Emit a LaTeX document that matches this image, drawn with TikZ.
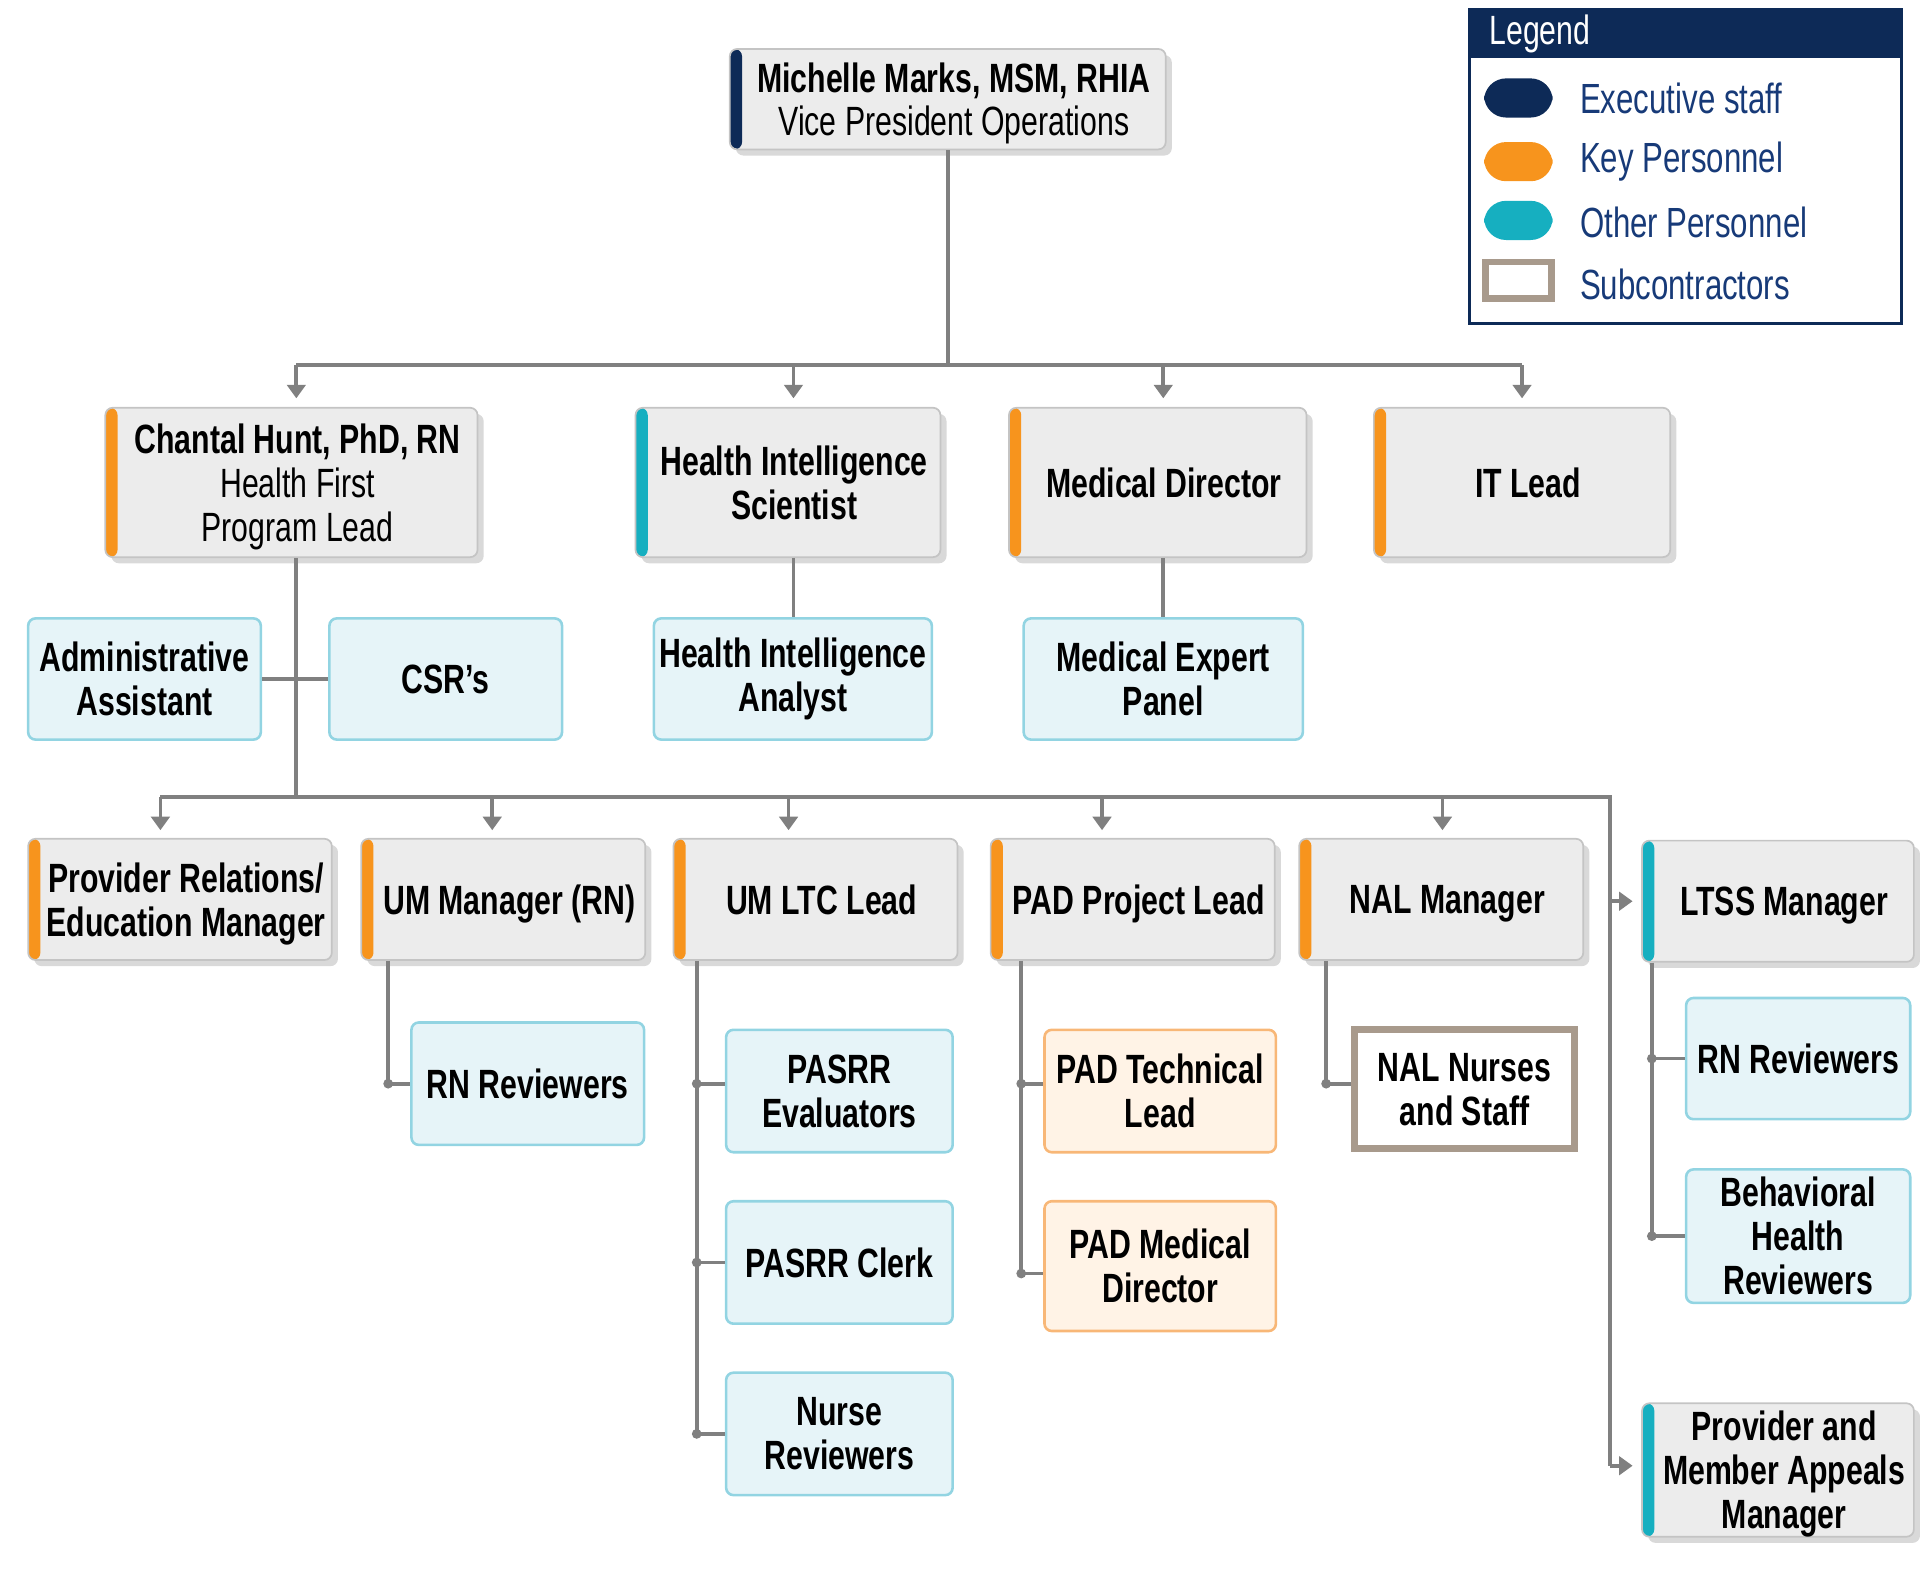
\documentclass[tikz,border=0pt]{standalone}
\usepackage{fontspec}
\setmainfont{Liberation Sans}[FakeStretch=0.74]
\usetikzlibrary{arrows.meta,shadows}
\definecolor{navy}{HTML}{0D2A57}
\definecolor{legtxt}{HTML}{173A78}
\definecolor{korange}{HTML}{F7941D}
\definecolor{kteal}{HTML}{16AFC0}
\definecolor{boxgray}{HTML}{ECECEC}
\definecolor{boxedge}{HTML}{C4C4C4}
\definecolor{lblue}{HTML}{E6F4F8}
\definecolor{bedge}{HTML}{92D4E2}
\definecolor{lorange}{HTML}{FFF3E6}
\definecolor{oedge}{HTML}{F8B777}
\definecolor{subc}{HTML}{A89A8C}
\definecolor{lgray}{HTML}{808080}
\tikzset{
 x=0.1mm, y=-0.1mm,
 base/.style={rounded corners=0.6mm, align=center, inner sep=0pt, font=\fontsize{9.5}{10.2}\selectfont\bfseries},
 gbox/.style={base, fill=boxgray, draw=boxedge, line width=0.4pt, text depth=0pt,
   drop shadow={opacity=0.3, shadow xshift=0.5mm, shadow yshift=-0.5mm},
   path picture={\fill[#1] (path picture bounding box.south west) rectangle ([xshift=1mm]path picture bounding box.north west);}},
 bbox/.style={base, fill=lblue, draw=bedge, line width=0.6pt},
 obox/.style={base, fill=lorange, draw=oedge, line width=0.6pt},
 sbox/.style={base, rounded corners=0pt, fill=white, draw=subc, line width=0.6mm},
 conn/.style={draw=lgray, line width=0.3mm},
 arr/.style={conn, -{Triangle[width=1.5mm,length=1.1mm]}, shorten >=0.7mm},
 dotn/.style={circle, fill=lgray, inner sep=0pt, minimum size=0.8mm},
 pill/.style={rounded corners=1.8mm, minimum width=5.6mm, minimum height=3.2mm, inner sep=0pt},
 legt/.style={anchor=west, text=legtxt, font=\fontsize{9.8}{10}\selectfont}
}
\begin{document}
\begin{tikzpicture}
\useasboundingbox (0,0) rectangle (1568,1300);
% top
\node[gbox=navy, minimum width=35.6mm, minimum height=8.2mm] (top) at (774,81) {\hspace{1mm}Michelle Marks, MSM, RHIA\\\hspace{1mm}{\mdseries Vice President Operations}};
% level 2
\node[gbox=korange, minimum width=30.4mm, minimum height=12.2mm] (chantal) at (238,394) {\hspace{1mm}Chantal Hunt, PhD, RN\\\hspace{1mm}{\mdseries Health First}\\\hspace{1mm}{\mdseries Program Lead}};
\node[gbox=kteal, minimum width=24.9mm, minimum height=12.2mm] (his) at (643.5,394) {\hspace{1mm}Health Intelligence\\\hspace{1mm}Scientist};
\node[gbox=korange, minimum width=24.3mm, minimum height=12.2mm] (md) at (945.5,394) {\hspace{1mm}Medical Director};
\node[gbox=korange, minimum width=24.2mm, minimum height=12.2mm] (it) at (1243,394) {\hspace{1mm}IT Lead};
% support
\node[bbox, minimum width=19mm, minimum height=9.9mm] (admin) at (118,554.5) {Administrative\\Assistant};
\node[bbox, minimum width=19mm, minimum height=9.9mm] (csr) at (364,554.5) {CSR’s};
\node[bbox, minimum width=22.7mm, minimum height=9.9mm] (hia) at (647.5,554.5) {Health Intelligence\\Analyst};
\node[bbox, minimum width=22.8mm, minimum height=9.9mm] (mep) at (950,554.5) {Medical Expert\\Panel};
% level 3
\node[gbox=korange, minimum width=24.8mm, minimum height=9.9mm] (pr) at (147,734.5) {\hspace{1mm}Provider Relations/\\\hspace{1mm}Education Manager};
\node[gbox=korange, minimum width=23.2mm, minimum height=9.9mm] (um) at (411,734.5) {\hspace{1mm}UM Manager (RN)};
\node[gbox=korange, minimum width=23.2mm, minimum height=9.9mm] (umltc) at (666,734.5) {\hspace{1mm}UM LTC Lead};
\node[gbox=korange, minimum width=23.2mm, minimum height=9.9mm] (pad) at (925,734.5) {\hspace{1mm}PAD Project Lead};
\node[gbox=korange, minimum width=23.2mm, minimum height=9.9mm] (nal) at (1177,734.5) {\hspace{1mm}NAL Manager};
\node[gbox=kteal, minimum width=22.2mm, minimum height=9.9mm] (ltss) at (1452,736) {\hspace{1mm}LTSS Manager};
\node[gbox=kteal, minimum width=22.2mm, minimum height=10.9mm] (pmam) at (1452,1200.5) {\hspace{1mm}Provider and\\\hspace{1mm}Member Appeals\\\hspace{1mm}Manager};
% children
\node[bbox, minimum width=19mm, minimum height=10mm] (rn1) at (431,885) {RN Reviewers};
\node[bbox, minimum width=18.5mm, minimum height=10mm] (pe) at (685.5,891) {PASRR\\Evaluators};
\node[bbox, minimum width=18.5mm, minimum height=10mm] (pc) at (685.5,1031) {PASRR Clerk};
\node[bbox, minimum width=18.5mm, minimum height=10mm] (nr) at (685.5,1171) {Nurse\\Reviewers};
\node[obox, minimum width=18.9mm, minimum height=10mm] (ptl) at (947.5,891) {PAD Technical\\Lead};
\node[obox, minimum width=18.9mm, minimum height=10.6mm] (pmd) at (947.5,1034) {PAD Medical\\Director};
\node[sbox, minimum width=18mm, minimum height=9.7mm] (naln) at (1196,889.5) {NAL Nurses\\and Staff};
\node[bbox, minimum width=18.3mm, minimum height=9.9mm] (rn2) at (1468.5,864.5) {RN Reviewers};
\node[bbox, minimum width=18.3mm, minimum height=10.9mm] (bhr) at (1468.5,1009.5) {Behavioral\\Health\\Reviewers};
% connectors level 1-2
\coordinate (t) at (774,298);
\coordinate (a1) at (242,298); \coordinate (a2) at (648,298);
\coordinate (a3) at (950,298); \coordinate (a4) at (1243,298);
\draw[conn] (top.south) -- (t);
\draw[conn] (a1) -- (a4);
\draw[arr] (a1) -- (a1 |- chantal.north);
\draw[arr] (a2) -- (a2 |- his.north);
\draw[arr] (a3) -- (a3 |- md.north);
\draw[arr] (a4) -- (a4 |- it.north);
\draw[conn] (his.south -| a2) -- (hia.north -| a2);
\draw[conn] (md.south -| a3) -- (mep.north -| a3);
\draw[conn] (admin.east) -- (csr.west);
% level 3 bus
\coordinate (h) at (242,651);
\coordinate (c) at (1315,651);
\coordinate (d) at (1315,1197);
\draw[conn] (chantal.south -| h) -- (h);
\draw[conn] (131,651) -- (c) -- (d);
\foreach \x/\n in {131/pr,402/um,644/umltc,900/pad,1178/nal} \draw[arr] (\x,651) -- (\x,685);
\draw[arr] (c |- ltss.west) -- (ltss.west);
\draw[arr] (d) -- (pmam.west |- d);
% child branches
\coordinate (u1) at (317,885);
\draw[conn] (um.south -| u1) -- (u1) -- (rn1.west);
\node[dotn] at (u1) {};
\coordinate (l1) at (569,885); \coordinate (l2) at (569,1031); \coordinate (l3) at (569,1171);
\draw[conn] (umltc.south -| l1) -- (l3);
\foreach \a/\b in {l1/pe,l2/pc,l3/nr} {\draw[conn] (\a) -- (\b.west |- \a); \node[dotn] at (\a) {};}
\coordinate (p1) at (834,885); \coordinate (p2) at (834,1040);
\draw[conn] (pad.south -| p1) -- (p2);
\foreach \a/\b in {p1/ptl,p2/pmd} {\draw[conn] (\a) -- (\b.west |- \a); \node[dotn] at (\a) {};}
\coordinate (n1) at (1083,885);
\draw[conn] (nal.south -| n1) -- (n1) -- (naln.west |- n1);
\node[dotn] at (n1) {};
\coordinate (r1) at (1349,864.5); \coordinate (r2) at (1349,1009.5);
\draw[conn] (ltss.south -| r1) -- (r2);
\foreach \a/\b in {r1/rn2,r2/bhr} {\draw[conn] (\a) -- (\b.west); \node[dotn] at (\a) {};}
% legend
\node[draw=navy, line width=0.25mm, minimum width=35.3mm, minimum height=25.6mm, inner sep=0pt] (leg) at (1376.5,136) {};
\fill[navy] (leg.north west) rectangle (1553,47);
\node[anchor=west, text=white, font=\fontsize{9.5}{10}\selectfont] (legh) at (1204,28) {Legend};
\node[pill, fill=navy] (k1) at (1240,80) {};
\node[pill, fill=korange] (k2) at (1240,132) {};
\node[pill, fill=kteal] (k3) at (1240,180) {};
\node[draw=subc, line width=0.55mm, minimum width=5.4mm, minimum height=3mm, inner sep=0pt, fill=white] (k4) at (1240,229) {};
\node[legt] (t1) at (1278,80) {Executive staff};
\node[legt] (t2) at (1278,132) {Key Personnel};
\node[legt] (t3) at (1278,182) {Other Personnel};
\node[legt] (t4) at (1278,232) {Subcontractors};
\end{tikzpicture}
\end{document}
